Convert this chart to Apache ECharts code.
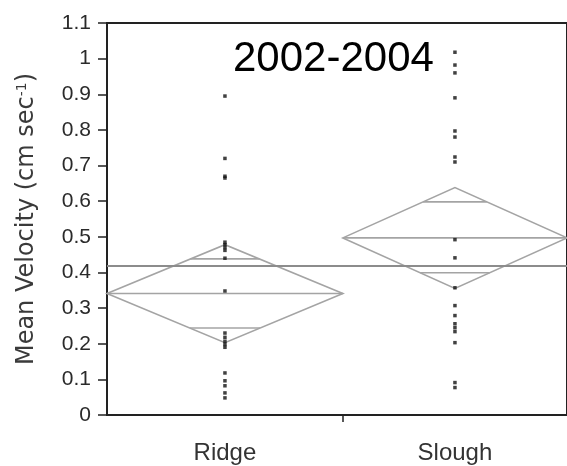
<!DOCTYPE html>
<html>
<head>
<meta charset="utf-8">
<script src="https://cdn.jsdelivr.net/npm/echarts@6/dist/echarts.min.js"></script>
<style>
  html, body { margin: 0; padding: 0; background: #fff; }
  #chart { width: 567px; height: 466px; }
</style>
</head>
<body>
<div id="chart"></div>
<script>
// Habitat groups and their individual mean-velocity observations (cm/s)
const groups = ['Ridge', 'Slough'];
const ridgeVelocity = [0.895, 0.72, 0.67, 0.665, 0.485, 0.478, 0.47, 0.462, 0.44, 0.348,
  0.23, 0.218, 0.207, 0.198, 0.19, 0.118, 0.096, 0.082, 0.062, 0.048];
const sloughVelocity = [1.018, 0.982, 0.96, 0.89, 0.797, 0.78, 0.724, 0.71, 0.492, 0.441,
  0.357, 0.307, 0.279, 0.256, 0.245, 0.234, 0.203, 0.091, 0.077];

// Means diamonds: group mean, 95% confidence limits and overlap marks
const groupMeans = [0.341, 0.497];
const ciLower = [0.203, 0.355];
const ciUpper = [0.478, 0.638];
const overlapLower = [0.244, 0.399];
const overlapUpper = [0.438, 0.598];
const grandMean = 0.416;

// Value axis ticks
const yMin = 0, yMax = 1.1, yStep = 0.1;

// Each group's horizontal extent is proportional to its sample size
const samples = [ridgeVelocity, sloughVelocity];
const counts = samples.map(s => s.length);
const starts = counts.map((c, i) => counts.slice(0, i).reduce((a, b) => a + b, 0));
const centers = starts.map((s, i) => s + counts[i] / 2);
const total = counts.reduce((a, b) => a + b, 0);

const points = [];
samples.forEach((vals, g) => vals.forEach(v => points.push([centers[g], v])));

const diamonds = groups.map((g, i) => [
  centers[i], starts[i], starts[i] + counts[i],
  groupMeans[i], ciLower[i], ciUpper[i], overlapLower[i], overlapUpper[i]
]);

const DIAMOND = '#a4a4a4';
const AXIS = '#222';

function renderDiamond(params, api) {
  const mid = api.value(0);
  const mean = api.value(3);
  const c = api.coord([mid, mean]);
  const L = api.coord([api.value(1), mean]);
  const R = api.coord([api.value(2), mean]);
  const top = api.coord([mid, api.value(5)]);
  const bot = api.coord([mid, api.value(4)]);
  const half = (R[0] - L[0]) / 2;
  const ovHiY = api.coord([mid, api.value(7)])[1];
  const ovLoY = api.coord([mid, api.value(6)])[1];
  const hwHi = half * (1 - (c[1] - ovHiY) / (c[1] - top[1]));
  const hwLo = half * (1 - (ovLoY - c[1]) / (bot[1] - c[1]));
  const stroke = { stroke: DIAMOND, lineWidth: 1.6, fill: null };
  return {
    type: 'group',
    children: [
      { type: 'polygon', shape: { points: [L, top, R, bot] }, style: stroke },
      { type: 'line', shape: { x1: L[0], y1: c[1], x2: R[0], y2: c[1] }, style: stroke },
      { type: 'line', shape: { x1: c[0] - hwHi, y1: ovHiY, x2: c[0] + hwHi, y2: ovHiY }, style: stroke },
      { type: 'line', shape: { x1: c[0] - hwLo, y1: ovLoY, x2: c[0] + hwLo, y2: ovLoY }, style: stroke }
    ]
  };
}

const chart = echarts.init(document.getElementById('chart'), null, { renderer: 'canvas' });
chart.setOption({
  animation: false,
  backgroundColor: '#fff',
  title: {
    text: '2002-2004',
    left: 233,
    top: 38,
    padding: 0,
    textStyle: { fontFamily: 'Liberation Sans', fontSize: 42, fontWeight: 'normal', color: '#000' }
  },
  grid: {
    left: 107, right: -4, top: 23, bottom: 51,
    show: true, borderColor: AXIS, borderWidth: 2, backgroundColor: 'transparent'
  },
  xAxis: {
    type: 'value',
    min: 0,
    max: total,
    splitLine: { show: false },
    axisLine: { show: true, lineStyle: { color: AXIS, width: 2 } },
    axisTick: { show: true, customValues: [starts[1]], length: 7, lineStyle: { color: AXIS, width: 1.5 } },
    axisLabel: {
      customValues: centers,
      formatter: v => groups[centers.indexOf(v)] || '',
      margin: 26,
      fontFamily: 'Liberation Sans',
      fontSize: 24,
      color: '#333'
    }
  },
  yAxis: {
    type: 'value',
    min: yMin,
    max: yMax,
    interval: yStep,
    name: 'Mean Velocity (cm sec{sup|-1})',
    nameLocation: 'middle',
    nameGap: 68,
    nameRotate: 90,
    nameTextStyle: {
      fontFamily: 'DejaVu Sans',
      fontSize: 24,
      color: '#3a3a3a',
      rich: { sup: { fontFamily: 'DejaVu Sans', fontSize: 14, color: '#3a3a3a', verticalAlign: 'top', padding: [0, 0, 9, 0] } }
    },
    splitLine: { show: false },
    axisLine: { show: true, lineStyle: { color: AXIS, width: 2 } },
    axisTick: { show: true, length: 9, lineStyle: { color: AXIS, width: 1.5 } },
    axisLabel: { margin: 16, fontFamily: 'Liberation Sans', fontSize: 21, color: '#2a2a2a' }
  },
  series: [
    {
      type: 'custom',
      renderItem: renderDiamond,
      data: diamonds,
      z: 2,
      silent: true,
      markLine: {
        silent: true,
        symbol: 'none',
        label: { show: false },
        lineStyle: { color: '#8c8c8c', width: 2, type: 'solid' },
        data: [{ yAxis: grandMean }]
      }
    },
    {
      type: 'scatter',
      data: points,
      symbol: 'rect',
      symbolSize: 3.5,
      itemStyle: { color: '#111' },
      z: 5
    }
  ]
});
</script>
</body>
</html>
